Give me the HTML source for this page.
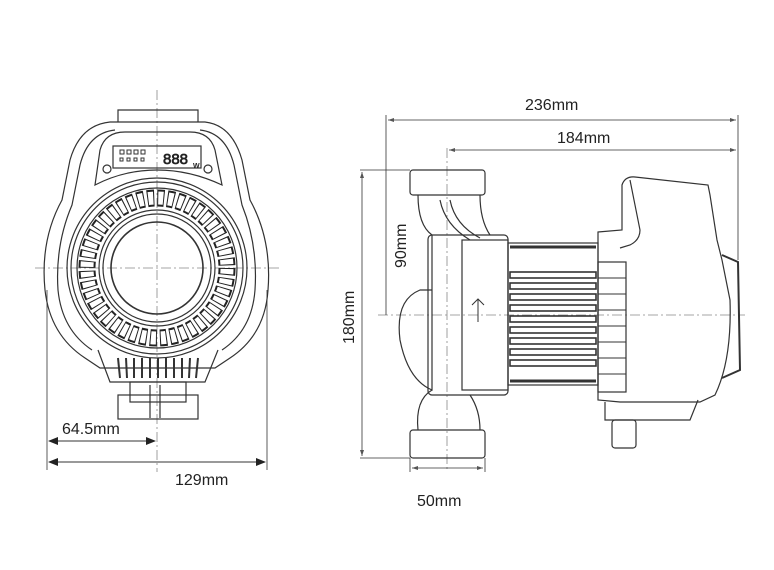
<!DOCTYPE html>
<html><head><meta charset="utf-8"><style>
html,body{margin:0;padding:0;background:#fff;}
svg{display:block;}
text{font-family:"Liberation Sans",Arial,sans-serif;fill:#222;}
</style></head><body>
<svg width="774" height="570" viewBox="0 0 774 570" xmlns="http://www.w3.org/2000/svg">
<defs>
<marker id="a" markerWidth="10" markerHeight="8" refX="9" refY="4" orient="auto-start-reverse" markerUnits="userSpaceOnUse"><path d="M0,0 L10,4 L0,8 z" fill="#222"/></marker>
<marker id="s" markerWidth="6" markerHeight="4" refX="6" refY="2" orient="auto-start-reverse" markerUnits="userSpaceOnUse"><path d="M0,0 L6,2 L0,4 z" fill="#555"/></marker>
</defs>
<g fill="none" stroke="#333" stroke-width="1.2">
<!-- ===== LEFT VIEW ===== -->
<line x1="157" y1="90" x2="157" y2="472" stroke="#888" stroke-width="0.8" stroke-dasharray="10,3,2,3"/>
<line x1="35" y1="268" x2="280" y2="268" stroke="#888" stroke-width="0.8" stroke-dasharray="10,3,2,3"/>
<path d="M118,122 L118,110 L198,110 L198,122"/>
<path d="M110,122 Q80,125 70,160 L62,200 Q40,240 45,290 Q50,335 85,358 L100,368 L215,368 L230,358 Q265,335 268,290 Q272,240 250,200 L242,160 Q232,125 205,122 Z"/>
<path d="M115,130 Q88,133 80,165 L72,205 Q55,245 58,290 Q62,330 92,350"/>
<path d="M200,130 Q226,133 234,165 L242,205 Q258,245 255,290 Q252,330 222,350"/>
<path d="M95,185 L100,150 Q105,132 125,132 L190,132 Q210,132 215,150 L222,185 Q190,170 157,170 Q124,170 95,185 Z"/>
<rect x="113" y="146" width="88" height="22"/>
<g stroke-width="1"><rect x="120" y="150" width="4" height="4"/><rect x="127" y="150" width="4" height="4"/><rect x="134" y="150" width="4" height="4"/><rect x="141" y="150" width="4" height="4"/><rect x="120" y="158" width="3" height="3"/><rect x="127" y="158" width="3" height="3"/><rect x="134" y="158" width="3" height="3"/><rect x="141" y="158" width="3" height="3"/></g>
<text x="163" y="164" font-size="15" stroke="none" fill="#fff" style="stroke:#222;stroke-width:0.7">888</text>
<text x="193" y="168" font-size="7" stroke="none" font-weight="bold">W</text>
<circle cx="107" cy="169" r="4"/><circle cx="208" cy="169" r="4"/>
<circle cx="157" cy="268" r="90"/>
<circle cx="157" cy="268" r="86"/>
<circle cx="157" cy="268" r="80"/>
<circle cx="157" cy="268" r="58"/>
<circle cx="157" cy="268" r="54"/>
<circle cx="157" cy="268" r="46" stroke-width="1.6"/>
<circle cx="157" cy="268" r="70" stroke="#222" stroke-width="17" stroke-dasharray="7,3"/>
<circle cx="157" cy="268" r="70" stroke="#fff" stroke-width="13" stroke-dasharray="5,5" stroke-dashoffset="-1"/>
<path d="M98,350 L110,382 L205,382 L218,350"/>
<g stroke-width="2">
<line x1="118" y1="358" x2="120" y2="378"/><line x1="126" y1="358" x2="127" y2="378"/><line x1="134" y1="358" x2="134" y2="378"/><line x1="142" y1="358" x2="142" y2="378"/><line x1="150" y1="358" x2="150" y2="378"/><line x1="158" y1="358" x2="158" y2="378"/><line x1="166" y1="358" x2="166" y2="378"/><line x1="174" y1="358" x2="174" y2="378"/><line x1="182" y1="358" x2="182" y2="378"/><line x1="190" y1="358" x2="189" y2="378"/><line x1="198" y1="358" x2="196" y2="378"/>
</g>
<rect x="130" y="382" width="56" height="20"/>
<rect x="118" y="395" width="80" height="24"/>
<line x1="150" y1="385" x2="150" y2="418"/><line x1="160" y1="385" x2="160" y2="418"/>
<line x1="47" y1="290" x2="47" y2="470" stroke-width="0.8"/>
<line x1="267" y1="290" x2="267" y2="470" stroke-width="0.8"/>
<line x1="49" y1="441" x2="155" y2="441" stroke-width="1" marker-start="url(#a)" marker-end="url(#a)"/>
<line x1="49" y1="462" x2="265" y2="462" stroke-width="1" marker-start="url(#a)" marker-end="url(#a)"/>

<!-- ===== RIGHT VIEW ===== -->
<line x1="447" y1="148" x2="447" y2="470" stroke="#888" stroke-width="0.8" stroke-dasharray="10,3,2,3"/>
<line x1="378" y1="315" x2="745" y2="315" stroke="#888" stroke-width="0.8" stroke-dasharray="10,3,2,3"/>
<rect x="410" y="170" width="75" height="25" rx="3"/>
<rect x="410" y="430" width="75" height="28" rx="3"/>
<path d="M418,195 Q418,225 432,235 L432,390 Q408,380 400,340 Q395,300 420,290 L432,290"/>
<path d="M480,195 Q480,220 490,235"/>
<path d="M432,390 Q415,400 418,430 M470,395 Q480,410 480,430"/>
<path d="M440,200 Q445,225 470,240 M450,200 Q455,225 480,238"/>
<rect x="428" y="235" width="80" height="160" rx="4"/>
<rect x="462" y="240" width="46" height="150"/>
<path d="M472,305 L478,299 L484,305 M478,299 L478,322" stroke-width="1"/>
<rect x="508" y="243" width="90" height="142"/>
<g stroke-width="3">
<line x1="510" y1="247" x2="596" y2="247"/><line x1="510" y1="381" x2="596" y2="381"/>
</g>
<g stroke-width="1.6">
<rect x="510" y="272" width="86" height="6"/><rect x="510" y="283" width="86" height="6"/><rect x="510" y="294" width="86" height="6"/><rect x="510" y="305" width="86" height="6"/><rect x="510" y="316" width="86" height="6"/><rect x="510" y="327" width="86" height="6"/><rect x="510" y="338" width="86" height="6"/><rect x="510" y="349" width="86" height="6"/><rect x="510" y="360" width="86" height="6"/>
</g>
<path d="M598,232 L622,230 L622,185 Q625,176 635,177 L708,185 L710,195 L717,240 L722,260 L730,300 Q732,360 715,395 L700,402 L620,402 L598,400 Z"/>
<path d="M630,180 L640,230 Q640,240 630,245 L620,248"/>
<rect x="598" y="262" width="28" height="130"/>
<g stroke-width="1"><line x1="598" y1="278" x2="626" y2="278"/><line x1="598" y1="294" x2="626" y2="294"/><line x1="598" y1="310" x2="626" y2="310"/><line x1="598" y1="326" x2="626" y2="326"/><line x1="598" y1="342" x2="626" y2="342"/><line x1="598" y1="358" x2="626" y2="358"/><line x1="598" y1="374" x2="626" y2="374"/></g>
<path d="M722,255 L738,262 L740,370 L722,378" stroke-width="2"/>
<path d="M605,402 L605,420 L690,420 L698,400"/>
<rect x="612" y="420" width="24" height="28" rx="3"/>
<line x1="386" y1="115" x2="386" y2="315" stroke-width="0.8"/>
<line x1="738" y1="115" x2="738" y2="260" stroke-width="0.8"/>
<line x1="388" y1="120" x2="736" y2="120" stroke-width="0.8" marker-start="url(#s)" marker-end="url(#s)"/>
<line x1="449" y1="150" x2="736" y2="150" stroke-width="0.8" marker-start="url(#s)" marker-end="url(#s)"/>
<line x1="360" y1="170" x2="410" y2="170" stroke-width="0.8"/>
<line x1="360" y1="458" x2="410" y2="458" stroke-width="0.8"/>
<line x1="362" y1="172" x2="362" y2="456" stroke-width="0.8" marker-start="url(#s)" marker-end="url(#s)"/>
<line x1="410" y1="458" x2="410" y2="472" stroke-width="0.8"/>
<line x1="485" y1="458" x2="485" y2="472" stroke-width="0.8"/>
<line x1="412" y1="468" x2="483" y2="468" stroke-width="0.8" marker-start="url(#s)" marker-end="url(#s)"/>
</g>
<text x="62" y="434" font-size="16">64.5mm</text>
<text x="175" y="485" font-size="16">129mm</text>
<text x="525" y="110" font-size="16">236mm</text>
<text x="557" y="143" font-size="16">184mm</text>
<text x="417" y="506" font-size="16">50mm</text>
<text transform="translate(354,344) rotate(-90)" font-size="16">180mm</text>
<text transform="translate(406,268) rotate(-90)" font-size="16">90mm</text>
</svg>
</body></html>
